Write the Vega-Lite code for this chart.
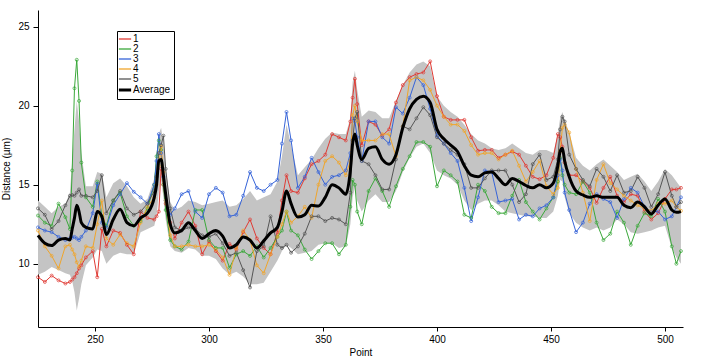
{
"$schema":"https://vega.github.io/schema/vega-lite/v6.json",
"width":645,"height":317,
"autosize":{"type":"none"},
"padding":{"left":38,"top":10,"right":22,"bottom":31},
"config":{"view":{"stroke":null},"font":"Liberation Sans",
 "axis":{"grid":false,"domainColor":"#000","tickColor":"#000","labelColor":"#000","titleColor":"#000","labelFontSize":10,"titleFontSize":10,"titleFontWeight":"normal","tickSize":4,"domainWidth":1,"tickWidth":1}},
"data":{"values":[
{"x":225,"1":9.15,"2":13.05,"3":12.3,"4":12.1,"5":13.5,"avg":11.8,"lo":9.3,"hi":14.0},
{"x":228,"1":8.85,"2":12.6,"3":12.1,"4":11.1,"5":13.1,"avg":11.3,"lo":9.5,"hi":13.6},
{"x":231,"1":9.25,"2":12.4,"3":12.0,"4":10.5,"5":12.2,"avg":11.15,"lo":9.8,"hi":13.2},
{"x":234,"1":8.95,"2":13.8,"3":11.7,"4":9.7,"5":12.7,"avg":11.5,"lo":9.6,"hi":13.6},
{"x":237,"1":8.75,"2":12.95,"3":11.5,"4":11.1,"5":13.7,"avg":11.6,"lo":9.4,"hi":13.8},
{"x":239,"1":8.85,"2":12.2,"3":11.6,"4":11.2,"5":14.3,"avg":11.5,"lo":9.3,"hi":14.5},
{"x":240,"1":9.0,"2":15.9,"3":11.65,"4":10.9,"5":14.35,"avg":12.2,"lo":8.9,"hi":16.5},
{"x":241,"1":9.15,"2":21.1,"3":11.7,"4":10.6,"5":14.3,"avg":12.9,"lo":8.2,"hi":18.5},
{"x":242,"1":9.4,"2":22.9,"3":11.6,"4":10.1,"5":14.5,"avg":13.7,"lo":7.05,"hi":20.3},
{"x":243,"1":9.7,"2":20.3,"3":11.5,"4":9.8,"5":14.7,"avg":13.3,"lo":7.8,"hi":19.0},
{"x":244,"1":9.9,"2":16.4,"3":11.7,"4":10.2,"5":14.3,"avg":12.6,"lo":8.7,"hi":17.0},
{"x":246,"1":10.4,"2":14.2,"3":12.1,"4":11.1,"5":14.3,"avg":12.3,"lo":9.9,"hi":14.9},
{"x":249,"1":10.8,"2":13.6,"3":13.2,"4":11.0,"5":14.2,"avg":12.2,"lo":10.4,"hi":14.9},
{"x":251,"1":9.15,"2":15.2,"3":15.05,"4":12.5,"5":14.6,"avg":13.3,"lo":10.9,"hi":15.8},
{"x":253,"1":12.2,"2":13.0,"3":12.6,"4":14.0,"5":15.6,"avg":13.0,"lo":10.8,"hi":15.7},
{"x":255,"1":11.1,"2":12.4,"3":12.3,"4":11.6,"5":13.2,"avg":11.85,"lo":10.0,"hi":14.2},
{"x":258,"1":12.1,"2":14.0,"3":13.7,"4":11.2,"5":14.0,"avg":12.8,"lo":10.5,"hi":15.1},
{"x":261,"1":11.95,"2":14.5,"3":14.4,"4":11.85,"5":14.6,"avg":13.45,"lo":10.7,"hi":15.4},
{"x":264,"1":11.2,"2":13.0,"3":15.1,"4":11.3,"5":13.5,"avg":12.6,"lo":10.6,"hi":14.9},
{"x":267,"1":10.6,"2":12.4,"3":14.55,"4":11.1,"5":13.1,"avg":12.4,"lo":10.6,"hi":14.2},
{"x":270,"1":13.3,"2":12.7,"3":14.2,"4":12.6,"5":13.3,"avg":12.9,"lo":12.0,"hi":13.8},
{"x":273,"1":12.9,"2":13.5,"3":13.8,"4":13.6,"5":13.8,"avg":13.2,"lo":12.2,"hi":14.1},
{"x":276,"1":12.8,"2":15.0,"3":15.0,"4":14.2,"5":14.6,"avg":14.2,"lo":12.4,"hi":15.4},
{"x":277,"1":13.0,"2":16.8,"3":16.5,"4":15.0,"5":15.5,"avg":15.0,"lo":13.0,"hi":16.8},
{"x":278,"1":13.3,"2":17.8,"3":18.2,"4":16.2,"5":17.0,"avg":16.5,"lo":14.6,"hi":18.2},
{"x":279,"1":16.0,"2":17.2,"3":17.0,"4":17.4,"5":17.5,"avg":16.6,"lo":15.3,"hi":18.6},
{"x":280,"1":15.0,"2":15.0,"3":15.5,"4":15.8,"5":18.1,"avg":15.6,"lo":14.2,"hi":17.6},
{"x":281,"1":13.8,"2":13.4,"3":14.0,"4":14.0,"5":16.0,"avg":14.4,"lo":12.8,"hi":16.0},
{"x":283,"1":12.6,"2":11.5,"3":13.1,"4":11.8,"5":13.5,"avg":12.5,"lo":11.1,"hi":13.9},
{"x":285,"1":11.6,"2":11.1,"3":13.5,"4":11.1,"5":12.3,"avg":11.95,"lo":10.8,"hi":13.4},
{"x":288,"1":12.6,"2":10.9,"3":14.4,"4":11.1,"5":12.1,"avg":12.1,"lo":10.7,"hi":13.6},
{"x":291,"1":13.3,"2":11.4,"3":14.6,"4":11.2,"5":12.3,"avg":12.6,"lo":11.0,"hi":14.0},
{"x":294,"1":12.4,"2":13.4,"3":13.3,"4":11.1,"5":12.2,"avg":12.1,"lo":10.9,"hi":13.9},
{"x":297,"1":10.6,"2":13.4,"3":12.9,"4":11.1,"5":11.8,"avg":11.6,"lo":10.5,"hi":13.7},
{"x":300,"1":11.4,"2":11.5,"3":14.4,"4":11.2,"5":11.7,"avg":11.9,"lo":10.5,"hi":13.8},
{"x":303,"1":10.8,"2":11.0,"3":14.8,"4":10.9,"5":11.9,"avg":12.1,"lo":10.3,"hi":13.9},
{"x":306,"1":10.2,"2":11.0,"3":14.5,"4":10.4,"5":11.3,"avg":11.75,"lo":9.7,"hi":14.0},
{"x":309,"1":11.25,"2":9.75,"3":13.0,"4":9.3,"5":10.5,"avg":11.0,"lo":9.3,"hi":13.6},
{"x":312,"1":10.9,"2":10.6,"3":13.1,"4":11.0,"5":10.7,"avg":11.2,"lo":9.5,"hi":13.7},
{"x":315,"1":12.0,"2":10.8,"3":14.3,"4":12.1,"5":9.6,"avg":11.7,"lo":9.2,"hi":14.1},
{"x":318,"1":12.8,"2":10.5,"3":15.8,"4":11.5,"5":8.5,"avg":11.5,"lo":8.7,"hi":14.6},
{"x":321,"1":11.6,"2":11.1,"3":14.8,"4":9.9,"5":10.8,"avg":11.0,"lo":8.7,"hi":14.0},
{"x":324,"1":11.0,"2":10.4,"3":14.6,"4":9.4,"5":11.1,"avg":11.45,"lo":8.8,"hi":14.2},
{"x":327,"1":10.6,"2":11.0,"3":15.0,"4":10.6,"5":13.0,"avg":11.95,"lo":9.5,"hi":14.4},
{"x":330,"1":12.0,"2":11.7,"3":15.3,"4":11.7,"5":11.2,"avg":12.3,"lo":10.2,"hi":15.2},
{"x":332,"1":14.0,"2":12.1,"3":17.6,"4":12.5,"5":11.0,"avg":13.3,"lo":10.8,"hi":16.8},
{"x":334,"1":15.6,"2":13.3,"3":19.6,"4":13.3,"5":11.2,"avg":14.6,"lo":11.2,"hi":18.8},
{"x":336,"1":14.6,"2":12.1,"3":17.8,"4":12.6,"5":10.7,"avg":13.8,"lo":11.0,"hi":17.5},
{"x":339,"1":14.5,"2":11.8,"3":14.8,"4":13.0,"5":11.1,"avg":12.95,"lo":10.6,"hi":15.6},
{"x":342,"1":15.4,"2":10.9,"3":15.5,"4":13.6,"5":11.9,"avg":13.1,"lo":10.7,"hi":16.1},
{"x":345,"1":16.3,"2":10.3,"3":16.7,"4":12.9,"5":13.0,"avg":13.7,"lo":10.8,"hi":16.6},
{"x":348,"1":16.5,"2":10.8,"3":15.8,"4":15.0,"5":13.0,"avg":13.65,"lo":11.2,"hi":17.3},
{"x":351,"1":16.9,"2":11.3,"3":15.0,"4":16.5,"5":12.7,"avg":14.2,"lo":11.3,"hi":17.9},
{"x":354,"1":18.2,"2":11.3,"3":15.5,"4":16.8,"5":12.9,"avg":15.0,"lo":11.3,"hi":18.3},
{"x":357,"1":18.0,"2":10.6,"3":15.6,"4":16.4,"5":12.8,"avg":14.8,"lo":11.0,"hi":18.2},
{"x":360,"1":17.8,"2":11.2,"3":15.9,"4":15.6,"5":12.5,"avg":14.4,"lo":11.1,"hi":18.2},
{"x":362,"1":19.0,"2":13.6,"3":17.0,"4":16.5,"5":14.5,"avg":15.9,"lo":12.5,"hi":19.2},
{"x":363,"1":20.5,"2":15.3,"3":19.2,"4":19.4,"5":17.8,"avg":17.6,"lo":14.2,"hi":21.5},
{"x":364,"1":21.7,"2":15.0,"3":19.0,"4":20.0,"5":19.2,"avg":18.2,"lo":14.8,"hi":22.2},
{"x":365,"1":20.1,"2":13.3,"3":18.0,"4":19.0,"5":19.6,"avg":17.5,"lo":14.0,"hi":21.0},
{"x":367,"1":17.5,"2":12.5,"3":16.5,"4":17.8,"5":16.5,"avg":16.6,"lo":13.3,"hi":19.3},
{"x":370,"1":19.0,"2":14.6,"3":19.0,"4":17.8,"5":16.3,"avg":17.3,"lo":14.0,"hi":19.7},
{"x":373,"1":18.8,"2":15.4,"3":19.0,"4":17.8,"5":15.6,"avg":17.4,"lo":14.4,"hi":19.6},
{"x":376,"1":18.1,"2":14.6,"3":18.0,"4":18.2,"5":14.7,"avg":16.6,"lo":13.9,"hi":19.2},
{"x":379,"1":18.5,"2":13.6,"3":17.6,"4":18.2,"5":14.7,"avg":16.3,"lo":13.9,"hi":19.2},
{"x":382,"1":20.2,"2":14.9,"3":19.9,"4":16.8,"5":16.6,"avg":16.9,"lo":14.6,"hi":20.3},
{"x":385,"1":21.3,"2":16.0,"3":19.5,"4":18.7,"5":18.7,"avg":18.6,"lo":15.8,"hi":21.3},
{"x":388,"1":21.8,"2":16.8,"3":20.5,"4":21.6,"5":18.5,"avg":19.8,"lo":16.7,"hi":22.1},
{"x":391,"1":22.0,"2":17.7,"3":21.8,"4":21.8,"5":19.2,"avg":20.4,"lo":17.4,"hi":22.6},
{"x":394,"1":22.1,"2":17.7,"3":21.3,"4":21.6,"5":19.9,"avg":20.6,"lo":17.6,"hi":22.8},
{"x":397,"1":22.8,"2":17.4,"3":19.8,"4":21.0,"5":19.4,"avg":20.2,"lo":17.0,"hi":22.5},
{"x":400,"1":20.6,"2":14.9,"3":18.1,"4":20.0,"5":18.0,"avg":18.5,"lo":15.9,"hi":20.6},
{"x":403,"1":19.3,"2":15.9,"3":17.6,"4":19.3,"5":17.6,"avg":17.9,"lo":15.6,"hi":20.0},
{"x":406,"1":19.1,"2":15.6,"3":17.0,"4":18.8,"5":17.2,"avg":17.5,"lo":15.4,"hi":19.6},
{"x":409,"1":19.1,"2":15.2,"3":16.5,"4":18.8,"5":16.9,"avg":17.1,"lo":15.0,"hi":19.3},
{"x":412,"1":19.1,"2":13.1,"3":14.8,"4":18.4,"5":16.3,"avg":16.2,"lo":14.0,"hi":18.8},
{"x":415,"1":18.0,"2":12.9,"3":12.7,"4":17.5,"5":14.8,"avg":15.6,"lo":13.4,"hi":18.2},
{"x":418,"1":17.15,"2":15.0,"3":14.2,"4":16.9,"5":14.8,"avg":15.5,"lo":13.8,"hi":17.8},
{"x":421,"1":17.2,"2":14.6,"3":15.9,"4":17.0,"5":15.4,"avg":15.75,"lo":14.0,"hi":17.6},
{"x":424,"1":17.2,"2":13.6,"3":15.8,"4":17.0,"5":15.9,"avg":15.8,"lo":14.0,"hi":17.3},
{"x":427,"1":16.7,"2":13.2,"3":13.9,"4":16.6,"5":15.9,"avg":15.4,"lo":13.7,"hi":17.2},
{"x":430,"1":16.9,"2":13.2,"3":14.0,"4":16.9,"5":15.9,"avg":15.0,"lo":13.3,"hi":17.3},
{"x":433,"1":17.1,"2":14.3,"3":14.1,"4":17.15,"5":15.0,"avg":15.4,"lo":13.2,"hi":17.6},
{"x":436,"1":16.9,"2":15.3,"3":12.8,"4":16.2,"5":13.9,"avg":15.2,"lo":13.1,"hi":17.3},
{"x":439,"1":16.2,"2":13.9,"3":13.1,"4":15.2,"5":14.4,"avg":14.95,"lo":13.0,"hi":17.0},
{"x":442,"1":15.5,"2":13.3,"3":13.0,"4":15.8,"5":16.3,"avg":14.8,"lo":13.0,"hi":16.9},
{"x":445,"1":15.35,"2":12.8,"3":13.5,"4":16.5,"5":16.9,"avg":15.0,"lo":12.9,"hi":17.2},
{"x":448,"1":15.6,"2":13.5,"3":13.7,"4":14.9,"5":15.3,"avg":14.8,"lo":12.9,"hi":17.2},
{"x":451,"1":16.7,"2":14.2,"3":14.2,"4":14.4,"5":15.5,"avg":15.1,"lo":13.3,"hi":17.0},
{"x":453,"1":18.2,"2":15.2,"3":15.6,"4":14.8,"5":16.6,"avg":16.2,"lo":14.3,"hi":18.2},
{"x":454,"1":18.0,"2":16.7,"3":16.6,"4":17.1,"5":18.5,"avg":17.1,"lo":15.3,"hi":19.2},
{"x":455,"1":17.4,"2":15.6,"3":15.9,"4":18.6,"5":19.3,"avg":17.3,"lo":15.2,"hi":19.6},
{"x":456,"1":16.4,"2":15.0,"3":14.5,"4":18.8,"5":19.0,"avg":16.5,"lo":14.2,"hi":19.1},
{"x":458,"1":15.6,"2":14.5,"3":13.4,"4":18.3,"5":16.9,"avg":15.5,"lo":13.2,"hi":18.3},
{"x":461,"1":15.6,"2":14.4,"3":12.0,"4":16.0,"5":16.0,"avg":14.6,"lo":12.6,"hi":16.7},
{"x":464,"1":15.2,"2":15.2,"3":12.6,"4":14.5,"5":15.3,"avg":14.35,"lo":12.3,"hi":16.2},
{"x":467,"1":14.8,"2":14.5,"3":13.8,"4":12.7,"5":14.9,"avg":14.2,"lo":12.1,"hi":15.9},
{"x":470,"1":13.85,"2":12.6,"3":14.4,"4":15.3,"5":16.0,"avg":14.3,"lo":12.3,"hi":16.3},
{"x":473,"1":14.8,"2":11.5,"3":14.1,"4":16.3,"5":15.5,"avg":14.2,"lo":12.1,"hi":16.6},
{"x":476,"1":15.5,"2":11.9,"3":13.9,"4":15.1,"5":14.6,"avg":14.2,"lo":12.3,"hi":16.2},
{"x":479,"1":14.3,"2":13.3,"3":12.9,"4":14.7,"5":15.6,"avg":14.2,"lo":12.8,"hi":15.8},
{"x":482,"1":13.9,"2":12.6,"3":14.1,"4":14.3,"5":14.5,"avg":13.7,"lo":12.5,"hi":15.3},
{"x":485,"1":14.4,"2":11.2,"3":14.8,"4":14.0,"5":14.6,"avg":13.55,"lo":12.0,"hi":15.5},
{"x":488,"1":14.3,"2":12.4,"3":14.5,"4":13.7,"5":15.5,"avg":13.9,"lo":11.9,"hi":15.7},
{"x":491,"1":13.3,"2":13.2,"3":13.6,"4":13.5,"5":14.8,"avg":13.6,"lo":12.0,"hi":15.2},
{"x":494,"1":12.8,"2":13.0,"3":13.3,"4":13.35,"5":13.6,"avg":13.15,"lo":12.1,"hi":14.6},
{"x":497,"1":13.2,"2":14.1,"3":13.3,"4":13.8,"5":14.4,"avg":13.7,"lo":12.3,"hi":15.2},
{"x":500,"1":14.1,"2":13.3,"3":12.8,"4":13.8,"5":15.8,"avg":14.1,"lo":12.4,"hi":16.0},
{"x":503,"1":14.7,"2":11.1,"3":13.0,"4":14.0,"5":14.3,"avg":13.4,"lo":11.0,"hi":15.6},
{"x":505,"1":14.7,"2":10.0,"3":13.6,"4":13.6,"5":13.6,"avg":13.25,"lo":10.4,"hi":15.2},
{"x":507,"1":14.8,"2":10.8,"3":14.2,"4":13.35,"5":13.9,"avg":13.3,"lo":10.0,"hi":14.8}
]},
"layer":[
 {"mark":{"type":"area","color":"#c4c4c4","opacity":1},
  "encoding":{
   "x":{"field":"x","type":"quantitative","scale":{"domain":[225,507.9],"nice":false,"zero":false},
        "axis":{"values":[250,300,350,400,450,500],"title":"Point","titlePadding":3,"labelPadding":3}},
   "y":{"field":"lo","type":"quantitative","scale":{"domain":[6,26.05],"nice":false,"zero":false},
        "axis":{"values":[10,15,20,25],"title":"Distance (µm)","titlePadding":6,"labelPadding":4,"tickSize":5}},
   "y2":{"field":"hi"}}},
 {"transform":[{"fold":["1","2","3","4","5"],"as":["series","value"]}],
  "mark":{"type":"line","strokeWidth":1,"point":{"filled":false,"size":9,"strokeWidth":0.7}},
  "encoding":{
   "x":{"field":"x","type":"quantitative"},
   "y":{"field":"value","type":"quantitative"},
   "color":{"field":"series","type":"nominal",
     "scale":{"domain":["1","2","3","4","5","Average"],"range":["#e03a33","#3aa83a","#3563d8","#f0a52a","#555555","#000000"]},
     "legend":{"orient":"none","legendX":79,"legendY":21,"title":null,"strokeColor":"#000","fillColor":"#fff","padding":3,
       "symbolType":"stroke","symbolSize":150,"symbolStrokeWidth":1.3,"labelFontSize":10,"rowPadding":0,"labelOffset":3,
       "encode":{"symbols":{"update":{"strokeWidth":{"signal":"datum.value === 'Average' ? 3 : 1.3"}}}}}}}},
 {"mark":{"type":"line","strokeWidth":3,"interpolate":"monotone"},
  "encoding":{
   "x":{"field":"x","type":"quantitative"},
   "y":{"field":"avg","type":"quantitative"},
   "color":{"datum":"Average"}}}
]
}
